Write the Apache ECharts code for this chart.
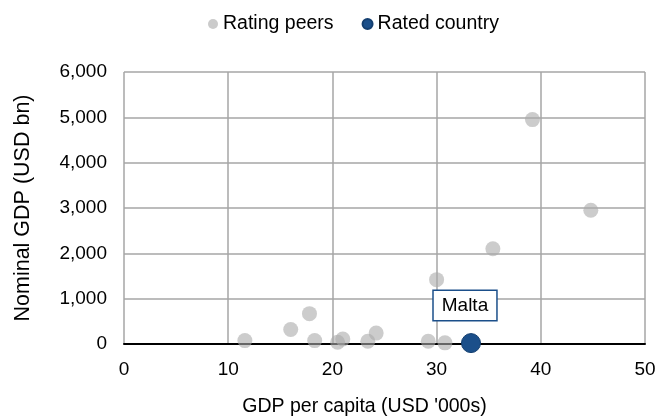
<!DOCTYPE html>
<html>
<head>
<meta charset="utf-8">
<script src="https://cdn.jsdelivr.net/npm/echarts@6/dist/echarts.min.js"></script>
<style>
  html, body { margin: 0; padding: 0; background: #fff; }
  #chart { width: 659px; height: 419px; }
</style>
</head>
<body>
<div id="chart"></div>
<script>
// GDP per capita (USD '000s) and nominal GDP (USD bn) of the peer group
const peerGdpPerCapita = [11.6, 16.0, 17.8, 18.3, 20.5, 21.0, 23.4, 24.2, 29.2, 30.0, 30.8, 35.4, 39.2, 44.8];
const peerNominalGdp   = [75, 320, 670, 75, 40, 110, 60, 240, 60, 1420, 25, 2100, 4950, 2950];

// The rated country
const ratedName = 'Malta';
const ratedGdpPerCapita = [33.3];
const ratedNominalGdp = [20];

const xTicks = { min: 0, max: 50, interval: 10 };
const yTicks = { min: 0, max: 6000, interval: 1000 };

const peerPoints = peerGdpPerCapita.map((x, i) => [x, peerNominalGdp[i]]);
const ratedPoints = ratedGdpPerCapita.map((x, i) => [x, ratedNominalGdp[i]]);

const FONT = '"Liberation Sans", Arial, sans-serif';
const chart = echarts.init(document.getElementById('chart'), null, { renderer: 'canvas' });

chart.setOption({
  animation: false,
  textStyle: { fontFamily: FONT },
  legend: {
    top: 9,
    left: 203,
    itemWidth: 10,
    itemHeight: 10,
    itemGap: 28,
    textStyle: { fontSize: 19.5, color: '#000', fontFamily: FONT },
    data: [
      { name: 'Rating peers', icon: 'circle', itemStyle: { color: '#cbcbcb' } },
      { name: 'Rated country', icon: 'circle', itemStyle: { color: '#1b4f8a' } }
    ]
  },
  grid: { left: 124, right: 14, top: 72, bottom: 75, containLabel: false, outerBoundsMode: 'none' },
  xAxis: {
    type: 'value',
    min: xTicks.min, max: xTicks.max, interval: xTicks.interval,
    name: "GDP per capita (USD '000s)",
    nameLocation: 'middle',
    nameGap: 53,
    nameTextStyle: { fontSize: 19.5, color: '#000', fontFamily: FONT, padding: [0, 40, 0, 0] },
    axisLine: { show: true, onZero: false, lineStyle: { color: '#000', width: 2 } },
    axisTick: { show: false },
    axisLabel: { fontSize: 19, color: '#000', margin: 16, fontFamily: FONT },
    splitLine: { show: true, lineStyle: { color: '#a6a6a6', width: 1.5 } }
  },
  yAxis: {
    type: 'value',
    min: yTicks.min, max: yTicks.max, interval: yTicks.interval,
    name: 'Nominal GDP (USD bn)',
    nameLocation: 'middle',
    nameGap: 90,
    nameTextStyle: { fontSize: 21.5, color: '#000', fontFamily: FONT },
    axisLine: { show: false },
    axisTick: { show: false },
    axisLabel: {
      fontSize: 19, color: '#000', margin: 17, fontFamily: FONT,
      formatter: v => v.toLocaleString('en-US')
    },
    splitLine: { show: true, lineStyle: { color: '#a6a6a6', width: 1.5 } }
  },
  series: [
    {
      name: 'Rating peers',
      type: 'scatter',
      symbolSize: 15,
      itemStyle: { color: 'rgba(170,170,170,0.6)', opacity: 1 },
      data: peerPoints,
      z: 2
    },
    {
      name: 'Rated country',
      type: 'scatter',
      symbolSize: 19,
      itemStyle: { color: '#1b4f8a', borderColor: '#143f70', borderWidth: 1, opacity: 1 },
      label: {
        show: true,
        formatter: ratedName,
        position: 'top',
        distance: 13,
        offset: [-6, 0],
        fontSize: 19,
        color: '#000',
        fontFamily: FONT,
        backgroundColor: '#fff',
        borderColor: '#1b4f8a',
        borderWidth: 1.5,
        padding: [5, 8, 5, 8],
        lineHeight: 19
      },
      data: ratedPoints,
      z: 3
    }
  ]
});
</script>
</body>
</html>
